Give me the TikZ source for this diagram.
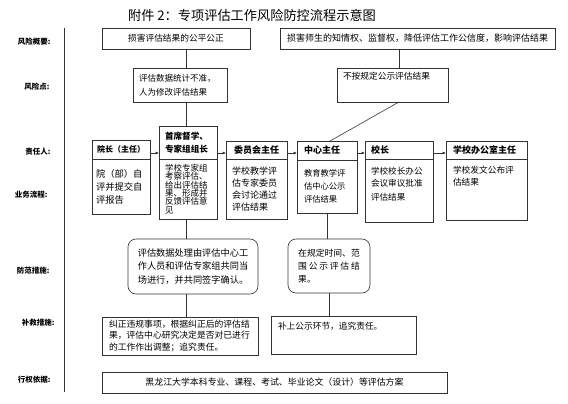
\documentclass[tikz,border=0pt]{standalone}
\usepackage{fontspec}
\setmainfont{Noto Sans CJK SC}
\usetikzlibrary{arrows.meta,positioning}
\newcommand\fsz[2]{\fontsize{#1}{#2}\selectfont}
\tikzset{
  box/.style    ={rectangle, draw=black!80, line width=0.6pt, outer sep=0pt,
                  inner xsep=4pt, inner ysep=3pt, align=left, font=\fsz{8.7}{12}},
  soft/.style   ={box, rounded corners=8pt},
  head/.style   ={box, font=\fsz{9}{11}\bfseries},
  side/.style   ={anchor=east, font=\fsz{7.5}{9}\bfseries},
  wire/.style   ={draw=black!80, line width=0.6pt},
  ar/.style     ={wire, -{Latex[length=3.4pt,width=3pt]}},
  topfill/.style 2 args={text height=#1, text depth=#2},
}
\begin{document}
\begin{tikzpicture}[x=1pt, y=-1pt]
\useasboundingbox (0,0) rectangle (568,404);
\node[font=\fsz{13.2}{15}] (title) at (252,15) {附件 2：专项评估工作风险防控流程示意图};

% left column
\coordinate (divtop) at (64,28);
\coordinate (divbot) at (64,392);
\draw[wire] (divtop) -- (divbot);
\node[side] (l-sum)   at (54,42)  {风险概要:};
\node[side] (l-point) at (53,87)  {风险点:};
\node[side] (l-resp)  at (54,152) {责任人:};
\node[side] (l-proc)  at (51,195) {业务流程:};
\node[side] (l-guard) at (53,271) {防范措施:};
\node[side] (l-fix)   at (58,323) {补救措施:};
\node[side] (l-basis) at (54,380) {行权依据:};

% risk summary and risk points
\node[box, anchor=north west, minimum width=148pt, minimum height=21pt, align=center] (sumA) at (102,28) {损害评估结果的公平公正};
\node[box, anchor=north west, minimum width=275pt, minimum height=21pt, align=center, font=\fsz{9}{12}] (sumB) at (280,28) {损害师生的知情权、监督权，降低评估工作公信度，影响评估结果};
\node[box, anchor=north west, text width=82pt, inner xsep=6pt, minimum height=34pt, font=\fsz{8.5}{14}] (ptA) at (133,68) {评估数据统计不准，\\人为修改评估结果};
\node[box, anchor=north west, text width=99pt, inner xsep=6pt, topfill={9pt}{19pt}] (ptB) at (337,68) {不按规定公示评估结果};

\coordinate (spineA) at (186,0);
\coordinate (spineB) at (399,0);
\draw[wire] (sumA.south -| spineA) -- (ptA.north -| spineA);
\draw[wire] (sumB.south -| spineB) -- (ptB.north -| spineB);

% responsible persons and process
\node[head, anchor=north west, minimum width=58pt, minimum height=19pt, align=center, font=\fsz{8}{10}\bfseries] (dean-h) at (92,140) {院长（主任）};
\node[box, below=0pt of dean-h, text width=50pt, minimum height=55pt, font=\fsz{9.3}{13}] (dean-b) {院（部）自\\评并提交自\\评报告};

\node[head, anchor=north west, text width=46pt, inner xsep=6pt, minimum height=33pt, font=\fsz{8.6}{13}\bfseries] (lead-h) at (159,126) {首席督学、\\专家组组长};
\node[box, below=0pt of lead-h, text width=46pt, inner xsep=6pt, minimum height=60pt, font=\fsz{8.5}{8.4}] (lead-b) {学校专家组\\考察评估、\\给出评估结\\果、形成并\\反馈评估意\\见};

\node[head, anchor=north west, minimum width=61pt, minimum height=18pt, align=center] (comm-h) at (226,141) {委员会主任};
\node[box, below=0pt of comm-h, text width=49pt, inner xsep=6pt, minimum height=60pt, font=\fsz{9}{12.3}] (comm-b) {学校教学评\\估专家委员\\会讨论通过\\评估结果};

\node[head, anchor=north west, text width=46pt, inner xsep=7pt, minimum height=19pt] (ctr-h) at (297,141) {中心主任};
\node[box, below=0pt of ctr-h, text width=46pt, inner xsep=7pt, minimum height=53pt, font=\fsz{8.3}{13}] (ctr-b) {教育教学评\\估中心公示\\评估结果};

\node[head, anchor=north west, text width=56pt, inner xsep=6pt, minimum height=18pt] (pres-h) at (365,141) {校长};
\node[box, below=0pt of pres-h, text width=56pt, inner xsep=6pt, topfill={12pt}{45pt}, font=\fsz{8.6}{13}] (pres-b) {学校校长办公\\会议审议批准\\评估结果};

\node[head, anchor=north west, text width=67pt, inner xsep=7pt, minimum height=18pt] (off-h) at (446,141) {学校办公室主任};
\node[box, below=0pt of off-h, text width=67pt, inner xsep=7pt, topfill={11pt}{44pt}] (off-b) {学校发文公布评\\估结果};

\coordinate (flow) at (0,153);
\draw[ar] (dean-h.east |- flow) -- (lead-h.west |- flow);
\draw[ar] (lead-h.east |- flow) -- (comm-h.west |- flow);
\draw[ar] (comm-h.east |- flow) -- (ctr-h.west |- flow);
\draw[ar] (ctr-h.east |- flow) -- (pres-h.west |- flow);
\draw[ar] (pres-h.east |- flow) -- (off-h.west |- flow);

\draw[wire] (ptA.south -| spineA) -- (lead-h.north -| spineA);
\draw[wire] (ptB.south -| spineB) -- ([xshift=3pt]ctr-h.north);

% prevention measures
\node[soft, anchor=north west, minimum width=130pt, minimum height=55pt, font=\fsz{9.2}{13.5}] (guardA) at (128,239) {评估数据处理由评估中心工\\作人员和评估专家组共同当\\场进行，并共同签字确认。};
\node[soft, anchor=north west, minimum width=82pt, minimum height=54pt, font=\fsz{8.8}{13}] (guardB) at (288,239) {在规定时间、范\\\hbox to 7em{围\hfill 公\hfill 示\hfill 评\hfill 估\hfill 结}\\果。};

\draw[wire] (lead-b.south -| spineA) -- (guardA.north -| spineA);
\draw[wire] (ctr-b.south) -- (ctr-b.south |- guardB.north);

% remedial measures
\node[box, anchor=north west, text width=142pt, inner xsep=7pt, minimum height=37pt, font=\fsz{8.8}{11.5}] (fixA) at (102,317) {纠正违规事项，根据纠正后的评估结\\果，评估中心研究决定是否对已进行\\的工作作出调整；追究责任。};
\node[box, anchor=north west, text width=131pt, inner xsep=7pt, topfill={10pt}{22pt}] (fixB) at (271,316) {补上公示环节，追究责任。};

\draw[wire] (guardA.south -| spineA) -- (fixA.north -| spineA);
\draw[wire] (guardB.south) -- (guardB.south |- fixB.north);

% basis
\node[box, anchor=north west, minimum width=345pt, minimum height=21pt, align=center, font=\fsz{8.9}{11}] (basis) at (102,372) {黑龙江大学本科专业、课程、考试、毕业论文（设计）等评估方案};
\end{tikzpicture}
\end{document}
